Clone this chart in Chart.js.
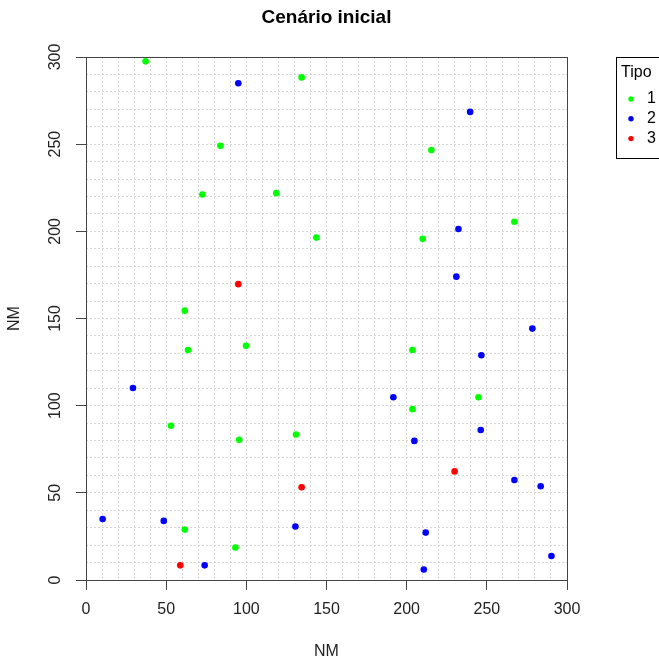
<!DOCTYPE html>
<html>
<head>
<meta charset="utf-8">
<script src="https://cdn.jsdelivr.net/npm/chart.js@4"></script>
<style>
  html, body { margin: 0; padding: 0; background: #fff; }
  #wrap { width: 659px; height: 661px; }
</style>
</head>
<body>
<div id="wrap"><canvas id="chart" width="659" height="661"></canvas></div>
<script>
// Cenário inicial - pontos por tipo
const chartTitle = 'Cenário inicial';
const axisTitle = 'NM';
const legendTitle = 'Tipo';
const tipoLabels = ['1', '2', '3'];
const tipoColors = ['#00ff00', '#0000ff', '#ff0000'];

const tipo1X = [37.2, 134.5, 83.8, 72.6, 118.7, 143.7, 61.6, 215.4, 267.2, 210.0,
                63.6, 99.8, 53.0, 95.6, 131.0, 61.6, 93.2, 203.6, 244.8, 203.6];
const tipo1Y = [297.5, 288.3, 249.1, 221.1, 221.9, 196.4, 154.5, 246.6, 205.5, 195.7,
                131.9, 134.4, 88.5, 80.4, 83.5, 28.9, 18.6, 131.9, 104.8, 98.0];

const tipo2X = [95.0, 239.6, 232.3, 231.0, 29.3, 10.4, 48.5, 130.6, 74.0,
                278.4, 246.6, 191.7, 246.2, 204.8, 267.2, 283.6, 211.9, 290.3, 210.7];
const tipo2Y = [284.9, 268.5, 201.3, 174.0, 110.1, 35.0, 33.9, 30.7, 8.4,
                144.2, 128.9, 104.8, 86.0, 79.8, 57.4, 53.8, 27.2, 13.8, 6.0];

const tipo3X = [95.0, 134.5, 58.8, 229.9];
const tipo3Y = [169.7, 53.2, 8.4, 62.3];

const tickStep = 10;
const labelStep = 50;

const FONT = '"Liberation Sans", Arial, sans-serif';

const toPoints = (xs, ys) => xs.map((x, i) => ({ x: x, y: ys[i] }));
const seriesX = [tipo1X, tipo2X, tipo3X];
const seriesY = [tipo1Y, tipo2Y, tipo3Y];

const datasets = tipoLabels.map((lab, i) => ({
    label: lab,
    data: toPoints(seriesX[i], seriesY[i]),
    backgroundColor: tipoColors[i],
    borderWidth: 0,
    pointRadius: 3.3
}));

// box, title and legend drawn around the plot like R does
const decorations = {
    id: 'decorations',
    afterDraw(chart) {
        const { ctx, chartArea: a } = chart;
        ctx.save();
        ctx.strokeStyle = '#444';
        ctx.lineWidth = 1;
        ctx.strokeRect(a.left + 0.5, a.top + 0.5, a.right - a.left, a.bottom - a.top);

        ctx.fillStyle = '#000';
        ctx.font = 'bold 19px ' + FONT;
        ctx.textAlign = 'center';
        ctx.textBaseline = 'middle';
        ctx.fillText(chartTitle, (a.left + a.right) / 2, 18);

        // legend
        ctx.strokeStyle = '#000';
        ctx.strokeRect(616.5, 57.5, 60, 101);
        ctx.font = '16px ' + FONT;
        ctx.textAlign = 'left';
        ctx.fillStyle = '#000';
        ctx.fillText(legendTitle, 621, 73);
        tipoLabels.forEach((lab, i) => {
            const y = 99 + i * 19.8;
            ctx.beginPath();
            ctx.fillStyle = tipoColors[i];
            ctx.arc(631, y, 2.7, 0, Math.PI * 2);
            ctx.fill();
            ctx.fillStyle = '#000';
            ctx.fillText(lab, 647, y);
        });
        ctx.restore();
    }
};

const makeAxis = (extra) => ({
    type: 'linear',
    min: 0,
    max: 300,
    ticks: {
        stepSize: tickStep,
        autoSkip: false,
        color: '#222',
        font: { family: FONT, size: 16 },
        callback: (v) => (v % labelStep === 0 ? String(v) : '')
    },
    grid: {
        color: '#d6d6d6',
        lineWidth: 1,
        tickLength: 10,
        tickWidth: 1,
        tickColor: (c) => (c.tick && c.tick.value % labelStep === 0 ? '#444' : 'rgba(0,0,0,0)')
    },
    border: { display: false, dash: [2, 2] },
    title: {
        display: true,
        text: axisTitle,
        color: '#222',
        font: { family: FONT, size: 16 }
    },
    ...extra
});

const xAxis = makeAxis({
    afterFit: (scale) => { scale.height = 81; }
});
xAxis.ticks.padding = 10;
xAxis.ticks.minRotation = 0;
xAxis.ticks.maxRotation = 0;
xAxis.title.padding = { top: 0, bottom: 0 };

const yAxis = makeAxis({
    afterFit: (scale) => { scale.width = 86; }
});
yAxis.ticks.padding = 7;
yAxis.ticks.minRotation = 90;
yAxis.ticks.maxRotation = 90;
yAxis.ticks.crossAlign = 'center';
yAxis.title.padding = { top: 5, bottom: 0 };

new Chart(document.getElementById('chart'), {
    type: 'scatter',
    data: { datasets: datasets },
    options: {
        responsive: false,
        animation: false,
        layout: { padding: { top: 57, right: 92, bottom: 0, left: 0 } },
        plugins: {
            legend: { display: false },
            tooltip: { enabled: false },
            title: { display: false }
        },
        scales: { x: xAxis, y: yAxis }
    },
    plugins: [decorations]
});
</script>
</body>
</html>
